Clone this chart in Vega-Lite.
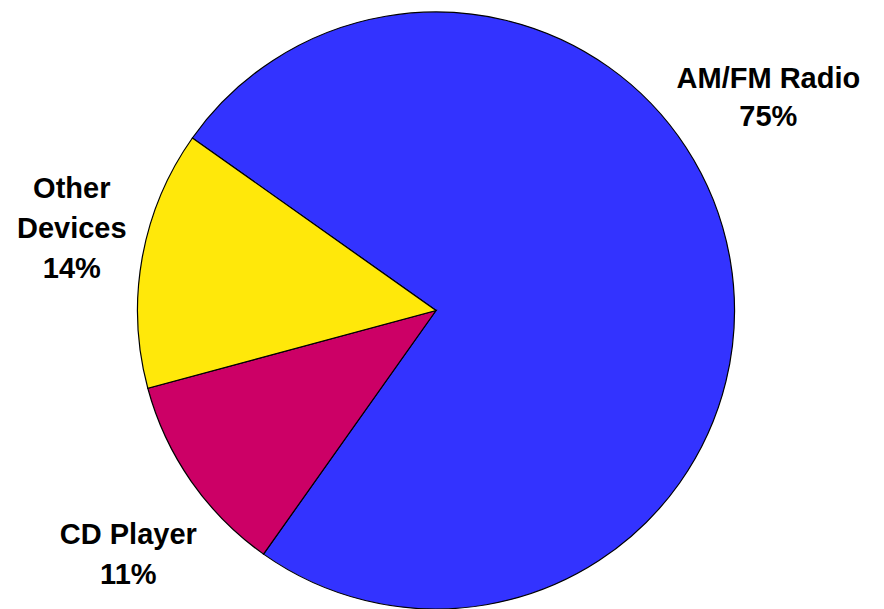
{
  "$schema": "https://vega.github.io/schema/vega-lite/v6.json",
  "width": 872,
  "height": 597,
  "autosize": {"type": "none"},
  "padding": {"left": 0, "top": 12, "right": 12, "bottom": 0},
  "background": "white",
  "config": {"view": {"stroke": null}},
  "data": {
    "values": [
      {"category": "AM/FM Radio", "value": 75, "order": 1, "label": "AM/FM Radio\n75%"},
      {"category": "CD Player", "value": 11, "order": 2, "label": "CD Player\n11%"},
      {"category": "Other Devices", "value": 14, "order": 3, "label": "Other\nDevices\n14%"}
    ]
  },
  "encoding": {
    "theta": {"field": "value", "type": "quantitative", "stack": true, "scale": {"range": [-0.9547, 5.3285]}},
    "order": {"field": "order", "type": "quantitative", "sort": "ascending"}
  },
  "layer": [
    {
      "mark": {"type": "arc", "stroke": "black", "strokeWidth": 1.2},
      "encoding": {
        "color": {
          "field": "category",
          "type": "nominal",
          "scale": {"domain": ["AM/FM Radio", "CD Player", "Other Devices"], "range": ["#3333FF", "#CC0066", "#FFE80A"]},
          "legend": null
        }
      }
    },
    {
      "mark": {"type": "text", "radius": 394, "dx": -56, "dy": -165, "font": "Liberation Sans", "fontWeight": "bold", "fontSize": 29, "lineBreak": "\n", "lineHeight": 38, "align": "center", "baseline": "middle", "color": "black"},
      "encoding": {
        "text": {"condition": {"test": "datum.category === 'AM/FM Radio'", "field": "label"}, "value": ""}
      }
    },
    {
      "mark": {"type": "text", "radius": 391, "dx": 13, "dy": 1, "font": "Liberation Sans", "fontWeight": "bold", "fontSize": 29, "lineBreak": "\n", "lineHeight": 39.5, "align": "center", "baseline": "middle", "color": "black"},
      "encoding": {
        "text": {"condition": {"test": "datum.category === 'CD Player'", "field": "label"}, "value": ""}
      }
    },
    {
      "mark": {"type": "text", "radius": 373, "dx": 3, "dy": -56, "font": "Liberation Sans", "fontWeight": "bold", "fontSize": 29, "lineBreak": "\n", "lineHeight": 40, "align": "center", "baseline": "middle", "color": "black"},
      "encoding": {
        "text": {"condition": {"test": "datum.category === 'Other Devices'", "field": "label"}, "value": ""}
      }
    }
  ]
}
